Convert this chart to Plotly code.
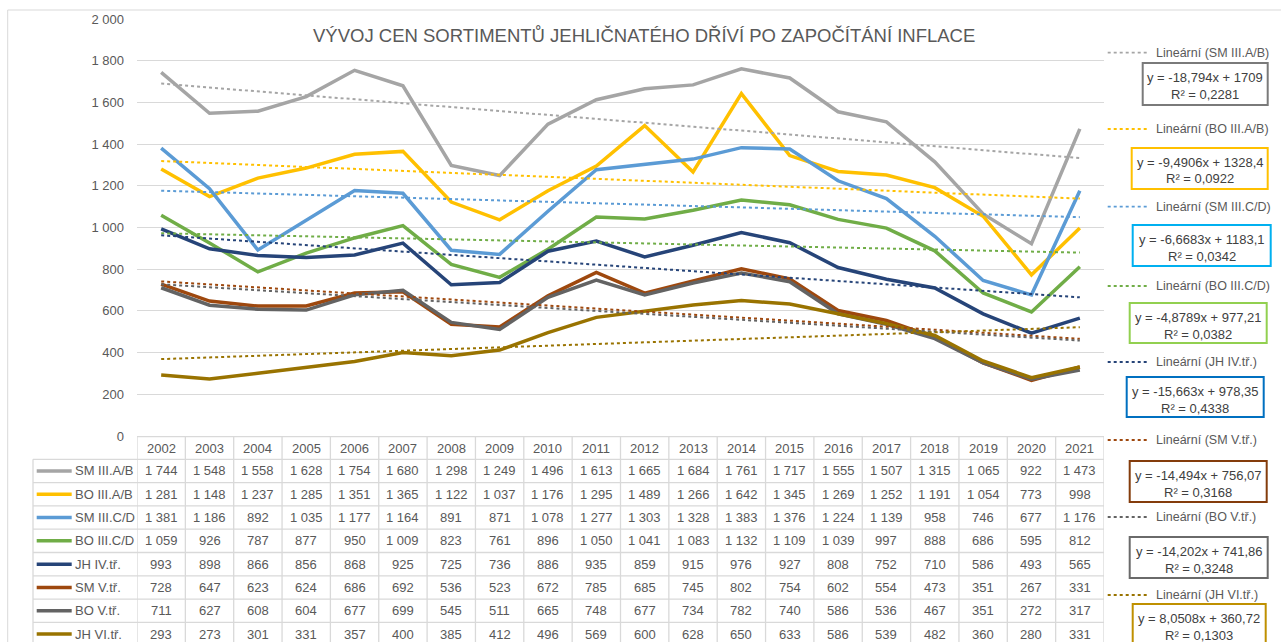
import plotly.graph_objects as go

years = [str(y) for y in range(2002, 2022)]
series_names = ["SM III.A/B", "BO III.A/B", "SM III.C/D", "BO III.C/D",
                "JH IV.tř.", "SM V.tř.", "BO V.tř.", "JH VI.tř."]
sm_3ab = [1744, 1548, 1558, 1628, 1754, 1680, 1298, 1249, 1496, 1613, 1665, 1684, 1761, 1717, 1555, 1507, 1315, 1065, 922, 1473]
bo_3ab = [1281, 1148, 1237, 1285, 1351, 1365, 1122, 1037, 1176, 1295, 1489, 1266, 1642, 1345, 1269, 1252, 1191, 1054, 773, 998]
sm_3cd = [1381, 1186, 892, 1035, 1177, 1164, 891, 871, 1078, 1277, 1303, 1328, 1383, 1376, 1224, 1139, 958, 746, 677, 1176]
bo_3cd = [1059, 926, 787, 877, 950, 1009, 823, 761, 896, 1050, 1041, 1083, 1132, 1109, 1039, 997, 888, 686, 595, 812]
jh_4 = [993, 898, 866, 856, 868, 925, 725, 736, 886, 935, 859, 915, 976, 927, 808, 752, 710, 586, 493, 565]
sm_5 = [728, 647, 623, 624, 686, 692, 536, 523, 672, 785, 685, 745, 802, 754, 602, 554, 473, 351, 267, 331]
bo_5 = [711, 627, 608, 604, 677, 699, 545, 511, 665, 748, 677, 734, 782, 740, 586, 536, 467, 351, 272, 317]
jh_6 = [293, 273, 301, 331, 357, 400, 385, 412, 496, 569, 600, 628, 650, 633, 586, 539, 482, 360, 280, 331]
series_values = [sm_3ab, bo_3ab, sm_3cd, bo_3cd, jh_4, sm_5, bo_5, jh_6]

trend_slopes = [-18.794, -9.4906, -6.6683, -4.8789, -15.663, -14.494, -14.202, 8.0508]
trend_intercepts = [1709, 1328.4, 1183.1, 977.21, 978.35, 756.07, 741.86, 360.72]
trend_r2 = [0.2281, 0.0922, 0.0342, 0.0382, 0.4338, 0.3168, 0.3248, 0.1303]

title_text = "VÝVOJ CEN SORTIMENTŮ JEHLIČNATÉHO DŘÍVÍ PO ZAPOČÍTÁNÍ INFLACE"

colors = ["#A5A5A5", "#FFC000", "#5B9BD5", "#70AD47", "#264478", "#9E480E", "#636363", "#997300"]
box_colors = ["#7A7A7A", "#FFC000", "#00B0F0", "#92D050", "#0070C0", "#843C0C", "#6A6A6A", "#BF9000"]

W, H = 1281, 642
L, R, T, B = 137.3, 1104.3, 19.0, 436.0


def px(x):
    return (x - L) / (R - L)


def py(y):
    return (B - y) / (B - T)


def fmt(v):
    return f"{v:,}".replace(",", " ")


def cz(v):
    return f"{v:g}".replace(".", ",")


FONT = "Liberation Sans"
GREY = "#595959"

fig = go.Figure()
xs = list(range(len(years)))

for name, vals, col in zip(series_names, series_values, colors):
    fig.add_trace(go.Scatter(x=xs, y=vals, mode="lines", name=name,
                             line=dict(color=col, width=3.5), hoverinfo="skip"))

for name, a, b, col in zip(series_names, trend_slopes, trend_intercepts, colors):
    ty = [a * (i + 1) + b for i in xs]
    fig.add_trace(go.Scatter(x=xs, y=ty, mode="lines", name="Lineární (" + name + ")",
                             line=dict(color=col, width=2, dash="dot"), hoverinfo="skip"))

shapes = []
annotations = []

# chart border
shapes.append(dict(type="rect", xref="paper", yref="paper", x0=px(8), x1=px(1295), y0=py(10), y1=py(660),
                   line=dict(color="#D9D9D9", width=1), fillcolor="rgba(0,0,0,0)", layer="below"))

# title
annotations.append(dict(text=title_text, xref="paper", yref="paper", x=px(644), y=py(36),
                        xanchor="center", yanchor="middle", showarrow=False,
                        font=dict(family=FONT, size=18.5, color=GREY)))

# table grid
line_col = "#D9D9D9"
header_top, header_bot = 436.7, 459.3
row_h = 23.3
n_rows = len(series_names)
row_tops = [header_bot + i * row_h for i in range(n_rows + 1)]
table_bottom = header_bot + n_rows * row_h

shapes.append(dict(type="line", xref="paper", yref="paper", x0=px(L), x1=px(R), y0=py(header_top), y1=py(header_top),
                   line=dict(color=line_col, width=1.3)))
for yt in row_tops:
    shapes.append(dict(type="line", xref="paper", yref="paper", x0=px(33.3), x1=px(R), y0=py(yt), y1=py(yt),
                       line=dict(color=line_col, width=1.3)))
shapes.append(dict(type="line", xref="paper", yref="paper", x0=px(33.3), x1=px(33.3), y0=py(header_bot), y1=py(table_bottom),
                   line=dict(color=line_col, width=1.3)))
for k in range(len(years) + 1):
    shapes.append(dict(type="line", xref="x", yref="paper", x0=k - 0.5, x1=k - 0.5, y0=py(header_top), y1=py(table_bottom),
                       line=dict(color=line_col, width=1.3)))

for i, yr in enumerate(years):
    annotations.append(dict(text=yr, xref="x", yref="paper", x=i, y=py((header_top + header_bot) / 2),
                            xanchor="center", yanchor="middle", showarrow=False,
                            font=dict(family=FONT, size=13, color=GREY)))

for r, (name, vals, col) in enumerate(zip(series_names, series_values, colors)):
    yc = row_tops[r] + row_h / 2
    shapes.append(dict(type="line", xref="paper", yref="paper", x0=px(37), x1=px(72), y0=py(yc), y1=py(yc),
                       line=dict(color=col, width=3.5)))
    annotations.append(dict(text=name, xref="paper", yref="paper", x=px(73), y=py(yc),
                            xanchor="left", yanchor="middle", showarrow=False,
                            font=dict(family=FONT, size=13, color=GREY)))
    for i, v in enumerate(vals):
        annotations.append(dict(text=fmt(v), xref="x", yref="paper", x=i, y=py(yc),
                                xanchor="center", yanchor="middle", showarrow=False,
                                font=dict(family=FONT, size=13, color=GREY)))

# trendline legend and equation boxes
legend_y = [52.7, 129, 206.7, 286, 362, 440, 517, 595]
boxes = [(1143, 1268, 63, 105), (1132, 1268, 148, 189), (1133, 1271, 225, 266), (1130, 1267, 303, 343),
         (1127, 1264, 377, 417), (1130, 1267, 461, 502), (1130, 1268, 537, 578), (1133, 1266, 604, 648)]

for k, name in enumerate(series_names):
    ly = legend_y[k]
    shapes.append(dict(type="line", xref="paper", yref="paper", x0=px(1108), x1=px(1147), y0=py(ly), y1=py(ly),
                       line=dict(color=colors[k], width=1.8, dash="dot")))
    annotations.append(dict(text="Lineární (" + name + ")", xref="paper", yref="paper", x=px(1154), y=py(ly),
                            xanchor="left", yanchor="middle", showarrow=False,
                            font=dict(family=FONT, size=12.5, color=GREY)))
    x0, x1, y0, y1 = boxes[k]
    shapes.append(dict(type="rect", xref="paper", yref="paper", x0=px(x0), x1=px(x1), y0=py(y0), y1=py(y1),
                       line=dict(color=box_colors[k], width=2), fillcolor="white"))
    a, b = trend_slopes[k], trend_intercepts[k]
    sign = "+" if b >= 0 else "-"
    eq = f"y = {cz(a)}x {sign} {cz(abs(b))}"
    r2 = f"R² = {cz(trend_r2[k])}"
    xc = (x0 + x1) / 2
    annotations.append(dict(text=eq, xref="paper", yref="paper", x=px(xc), y=py(y0 + 14),
                            xanchor="center", yanchor="middle", showarrow=False,
                            font=dict(family=FONT, size=13, color="#404040")))
    annotations.append(dict(text=r2, xref="paper", yref="paper", x=px(xc), y=py(y0 + 31),
                            xanchor="center", yanchor="middle", showarrow=False,
                            font=dict(family=FONT, size=13, color="#404040")))

fig.update_layout(
    width=W, height=H,
    margin=dict(l=L, r=W - R, t=T, b=H - B, pad=0),
    paper_bgcolor="white", plot_bgcolor="white",
    showlegend=False,
    separators=", ",
    shapes=shapes, annotations=annotations,
    xaxis=dict(range=[-0.5, len(years) - 0.5], showticklabels=False, showgrid=False, zeroline=False,
               showline=False, ticks="", fixedrange=True),
    yaxis=dict(range=[0, 2000], dtick=200, tick0=0, separatethousands=True, showgrid=True,
               gridcolor="#D9D9D9", gridwidth=1, zeroline=False, showline=False, ticks="",
               ticklabelstandoff=12,
               tickfont=dict(family=FONT, size=13, color=GREY), fixedrange=True),
)

fig.write_html("out.html", config={"displayModeBar": False},
               post_script="document.body.style.margin='0';document.body.style.overflow='hidden';")
